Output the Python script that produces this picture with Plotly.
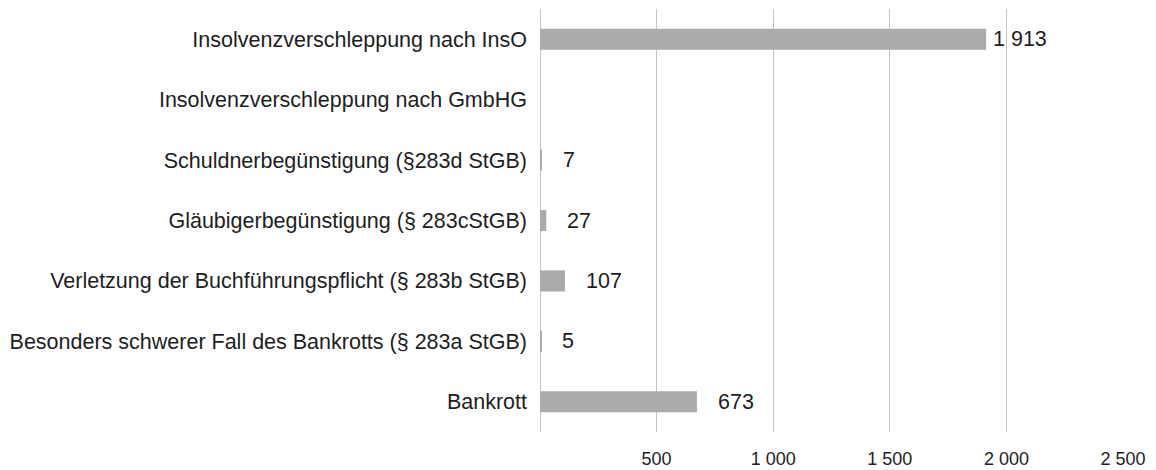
import plotly.graph_objects as go

# Kategorien von oben nach unten
kategorien = [
    "Insolvenzverschleppung nach InsO",
    "Insolvenzverschleppung nach GmbHG",
    "Schuldnerbegünstigung (§283d StGB)",
    "Gläubigerbegünstigung (§ 283cStGB)",
    "Verletzung der Buchführungspflicht (§ 283b StGB)",
    "Besonders schwerer Fall des Bankrotts (§ 283a StGB)",
    "Bankrott",
]
werte = [1913, None, 7, 27, 107, 5, 673]
x_ticks = [500, 1000, 1500, 2000, 2500]

FONT = "Liberation Sans, Arial, sans-serif"
BAR_COLOR = "#ababab"
GRID_COLOR = "#c4c4c4"
TEXT_COLOR = "#1e1e1e"

fig = go.Figure()
fig.add_trace(go.Bar(
    x=werte,
    y=kategorien,
    orientation="h",
    marker=dict(color=BAR_COLOR, line=dict(width=0)),
    hoverinfo="x+y",
))

# Wertebeschriftungen rechts neben den Balken
max_wert = max(v for v in werte if v is not None)
for kat, v in zip(kategorien, werte):
    if v is None:
        continue
    fig.add_annotation(
        x=v, y=kat, xref="x", yref="y",
        text=f"{v:,}".replace(",", " "),
        showarrow=False,
        xanchor="left", yanchor="middle",
        xshift=5 if v == max_wert else 19,
        font=dict(size=21.5, color=TEXT_COLOR, family=FONT),
    )

# die Seite hat 8px Rand, daher Figur etwas kleiner
fig.update_layout(
    width=1148,
    height=462,
    margin=dict(l=532, r=33, t=1, b=38),
    paper_bgcolor="white",
    plot_bgcolor="white",
    showlegend=False,
    bargap=0.65,
    separators=". ",
    font=dict(family=FONT, color=TEXT_COLOR),
)
fig.update_xaxes(
    range=[0, 2500],
    tickvals=x_ticks,
    separatethousands=True,
    showgrid=True,
    gridcolor=GRID_COLOR,
    gridwidth=1,
    zeroline=True,
    zerolinecolor=GRID_COLOR,
    zerolinewidth=1,
    showline=False,
    ticks="",
    ticklabelstandoff=14,
    tickfont=dict(size=18, color=TEXT_COLOR, family=FONT),
    automargin=False,
)
fig.update_yaxes(
    autorange="reversed",
    showgrid=False,
    zeroline=False,
    showline=False,
    ticks="",
    ticklabelstandoff=12,
    tickfont=dict(size=21.5, color=TEXT_COLOR, family=FONT),
    automargin=False,
)

fig.write_html("out.html")
